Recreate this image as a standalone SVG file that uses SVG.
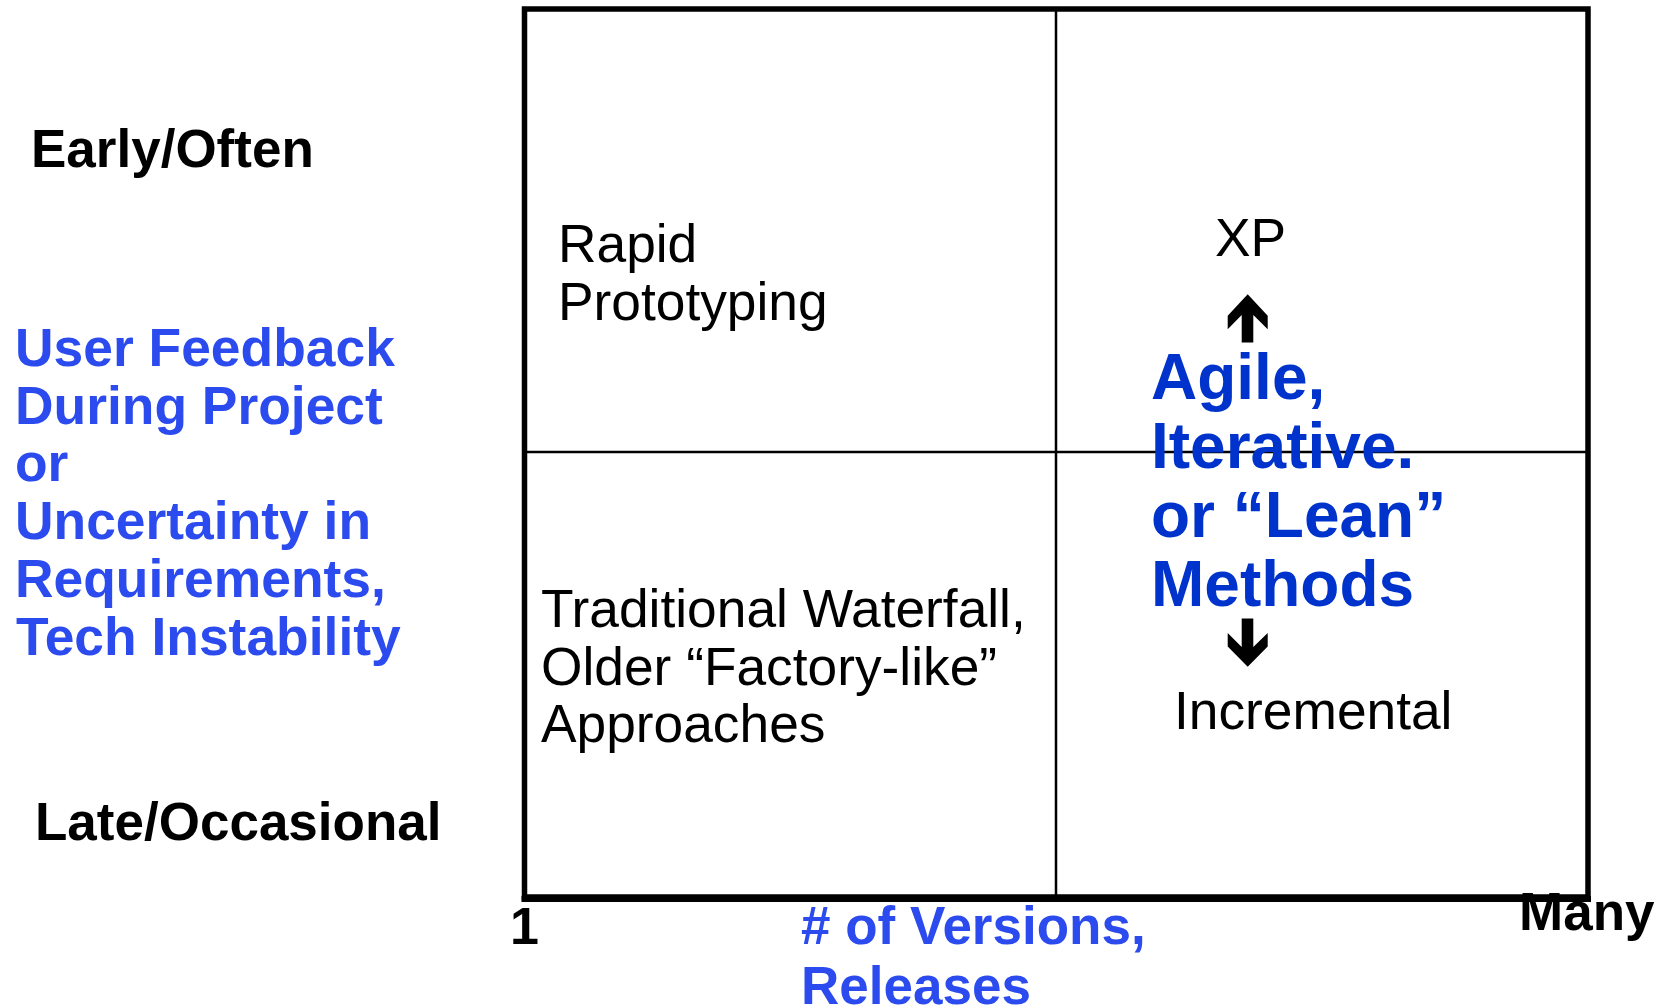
<svg xmlns="http://www.w3.org/2000/svg" width="1659" height="1005" viewBox="0 0 1659 1005">
  <style>
    .axis { font-family: "Liberation Sans", Arial, sans-serif; font-weight: bold; font-size: 53px; fill: #000; }
    .tick { font-family: "Liberation Sans", Arial, sans-serif; font-weight: bold; font-size: 52px; fill: #000; }
    .dim { font-family: "Liberation Sans", Arial, sans-serif; font-weight: bold; font-size: 53.4px; fill: #2B4BEE; }
    .dimx { font-family: "Liberation Sans", Arial, sans-serif; font-weight: bold; font-size: 53px; fill: #2B4BEE; }
    .cell { font-family: "Liberation Sans", Arial, sans-serif; font-size: 53.3px; fill: #000; }
    .agile { font-family: "Liberation Sans", Arial, sans-serif; font-weight: bold; font-size: 64px; fill: #0033CC; }
    .frame { fill: none; stroke: #000; stroke-width: 5.5; }
    .divider { fill: none; stroke: #000; stroke-width: 2.5; }
    .arrow { fill: #000; stroke: none; }
  </style>
  <rect width="1659" height="1005" fill="#fff"/>

  <!-- quadrant grid -->
  <g id="grid">
    <line class="divider" x1="1056" y1="9" x2="1056" y2="899"/>
    <line class="divider" x1="524.5" y1="452" x2="1588" y2="452"/>
    <rect class="frame" x="524.5" y="9" width="1063.5" height="888"/>
    <line x1="521.5" y1="899" x2="1591" y2="899" stroke="#000" stroke-width="6"/>
  </g>

  <!-- vertical axis labels -->
  <g id="y-axis">
    <text class="axis" x="31" y="167">Early/Often</text>
    <text class="dim">
      <tspan x="15" y="366">User Feedback</tspan>
      <tspan x="15" y="424">During Project</tspan>
      <tspan x="15" y="481">or</tspan>
      <tspan x="15" y="539">Uncertainty in</tspan>
      <tspan x="15" y="597">Requirements,</tspan>
      <tspan x="16" y="655">Tech Instability</tspan>
    </text>
    <text class="axis" x="35" y="840">Late/Occasional</text>
  </g>

  <!-- horizontal axis labels -->
  <g id="x-axis">
    <text class="tick" x="510" y="944">1</text>
    <text class="dimx">
      <tspan x="801" y="944"># of Versions,</tspan>
      <tspan x="801" y="1004">Releases</tspan>
    </text>
    <text class="tick" x="1519" y="930" style="font-size:53px">Many</text>
  </g>

  <!-- quadrant contents -->
  <g id="rapid-prototyping">
    <text class="cell"><tspan x="558" y="262">Rapid</tspan><tspan x="558" y="320">Prototyping</tspan></text>
  </g>
  <g id="waterfall">
    <text class="cell"><tspan x="541" y="627">Traditional Waterfall,</tspan><tspan x="541" y="685">Older “Factory-like”</tspan><tspan x="541" y="742">Approaches</tspan></text>
  </g>
  <g id="xp">
    <text class="cell" x="1215" y="256">XP</text>
  </g>
  <g id="agile">
    <text class="agile"><tspan x="1151" y="399">Agile,</tspan><tspan x="1151" y="468">Iterative.</tspan><tspan x="1151" y="537">or “Lean”</tspan><tspan x="1151" y="606">Methods</tspan></text>
  </g>
  <g id="incremental">
    <text class="cell" x="1174" y="729">Incremental</text>
  </g>

  <!-- up / down block arrows -->
  <g id="connectors">
    <path class="arrow" d="M1247.7,294.3 L1267.7,315.7 L1267.7,329.3 L1253.3,315 L1253.3,342.5 L1241.7,342.5 L1241.7,315 L1227.7,329.3 L1227.7,315.7 Z"/>
    <path class="arrow" d="M1241.7,618.6 L1253.3,618.6 L1253.3,647 L1267.7,632.9 L1267.7,646.5 L1247.7,666.8 L1227.7,646.5 L1227.7,632.9 L1241.7,647 Z"/>
  </g>
</svg>
